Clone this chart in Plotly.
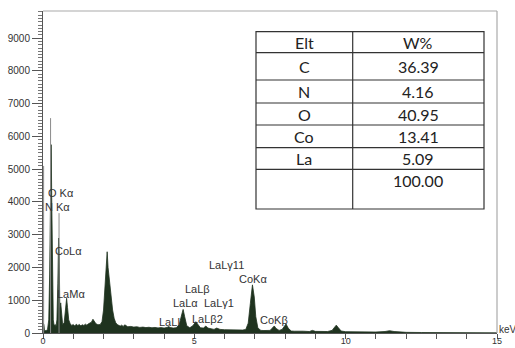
import plotly.graph_objects as go

# ---- spectrum (keV, counts) ----
kev = [0.00, 0.01, 0.03, 0.05, 0.10, 0.15, 0.19, 0.22, 0.245, 0.27, 0.29, 0.31, 0.34, 0.37,
       0.40, 0.43, 0.46, 0.49, 0.515, 0.535, 0.555, 0.585, 0.615, 0.65, 0.70, 0.74, 0.78,
       0.81, 0.85, 0.90, 0.95, 1.00, 1.05, 1.10, 1.15, 1.20, 1.25, 1.30, 1.35, 1.40, 1.45,
       1.50, 1.55, 1.60, 1.65, 1.70, 1.75, 1.80, 1.85, 1.90, 1.95, 2.00, 2.05, 2.09, 2.12,
       2.15, 2.20, 2.25, 2.30, 2.35, 2.40, 2.45, 2.50, 2.55, 2.60, 2.65, 2.70, 2.75, 2.80,
       2.90, 3.00, 3.10, 3.20, 3.30, 3.40, 3.50, 3.60, 3.70, 3.80, 3.90, 4.00, 4.10, 4.15,
       4.20, 4.30, 4.40, 4.50, 4.58, 4.63, 4.68, 4.75, 4.85, 4.95, 5.05, 5.12, 5.20, 5.30,
       5.38, 5.45, 5.55, 5.65, 5.74, 5.85, 6.00, 6.10, 6.20, 6.30, 6.40, 6.50, 6.60, 6.70,
       6.78, 6.85, 6.92, 6.98, 7.03, 7.10, 7.20, 7.30, 7.40, 7.50, 7.58, 7.64, 7.70, 7.80,
       7.90, 7.97, 8.03, 8.10, 8.20, 8.30, 8.40, 8.50, 8.60, 8.80, 8.90, 9.00, 9.20, 9.40,
       9.55, 9.62, 9.69, 9.76, 9.85, 10.0, 10.2, 10.5, 10.8, 11.0, 11.3, 11.45, 11.6, 11.8,
       12.0, 12.5, 13.0, 13.5, 14.0, 14.5, 15.0]
counts = [0, 300, 250, 80, 70, 110, 400, 1800, 4300, 5750, 4000, 1500, 400, 210,
          260, 200, 400, 1500, 2900, 2400, 750, 920, 480, 250, 320, 700, 1060,
          780, 400, 280, 230, 260, 210, 270, 230, 260, 220, 250, 230, 270, 240,
          280, 300, 330, 420, 330, 280, 260, 250, 270, 350, 700, 1400, 2200, 2480,
          2000, 1500, 1000, 700, 450, 320, 260, 230, 210, 240, 200, 250, 210, 190,
          200, 180, 190, 170, 180, 165, 175, 160, 170, 155, 165, 150, 170, 200,
          170, 150, 160, 250, 550, 720, 500, 220, 160, 220, 345, 260, 160, 150,
          210, 150, 120, 110, 150, 110, 100, 95, 100, 90, 95, 85, 90, 110,
          300, 900, 1470, 1100, 500, 150, 80, 75, 70, 80, 150, 215, 140, 80,
          110, 220, 275, 150, 60, 55, 60, 50, 55, 45, 80, 50, 40, 45,
          80, 170, 240, 160, 60, 40, 35, 30, 28, 30, 45, 70, 45, 25,
          20, 15, 12, 10, 8, 6, 5]

# element marker lines (keV, counts)
marker_kev = [0.02, 0.25, 0.53]
marker_cnt = [5100, 6560, 3660]

# peak labels (keV, counts of label anchor)
label_text = ["O Kα", "N Kα", "CoLα", "LaMα", "LaLI", "LaLα", "LaLβ", "LaLγ1",
              "LaLβ2", "LaLγ11", "CoKα", "CoKβ"]
label_kev = [0.10, 0.00, 0.33, 0.40, 3.77, 4.22, 4.63, 5.24, 4.86, 5.41, 6.41, 7.10]
label_cnt = [4280, 3850, 2500, 1190, 350, 925, 1345, 915, 430, 2075, 1640, 400]

# composition table
table_elt = ["Elt", "C", "N", "O", "Co", "La", ""]
table_wt = ["W%", "36.39", "4.16", "40.95", "13.41", "5.09", "100.00"]

y_ticks = [0, 1000, 2000, 3000, 4000, 5000, 6000, 7000, 8000, 9000]
x_ticks = [0, 5, 10, 15]

W, H = 515, 348
L, R, T, B = 43, 18, 11, 15
pw, ph = W - L - R, H - T - B


def px(x):
    return (x - L) / pw


def py(y):
    return (H - B - y) / ph


fig = go.Figure()
fig.add_trace(go.Scatter(x=kev, y=counts, mode="lines", fill="tozeroy",
                         line=dict(color="#1f331f", width=0.8),
                         fillcolor="#1f331f", hoverinfo="skip"))
mx, my = [], []
for k, c in zip(marker_kev, marker_cnt):
    mx += [k, k, None]
    my += [0, c, None]
fig.add_trace(go.Scatter(x=mx, y=my, mode="lines",
                         line=dict(color="#8a8a8a", width=1), hoverinfo="skip"))

annotations = []
for t, k, c in zip(label_text, label_kev, label_cnt):
    annotations.append(dict(x=k, y=c, xref="x", yref="y", text=t, showarrow=False,
                            xanchor="left", yanchor="middle",
                            font=dict(family="Liberation Sans", size=11, color="#333333")))
annotations.append(dict(x=1, y=122, xref="paper", yref="y", text="keV", showarrow=False,
                        xanchor="left", yanchor="middle", xshift=0,
                        font=dict(family="Liberation Sans", size=10, color="#333333")))

shapes = []
# frame top/right
shapes.append(dict(type="line", xref="paper", yref="paper", x0=0, x1=1, y0=1, y1=1,
                   line=dict(color="#aaaaaa", width=1.2)))
shapes.append(dict(type="line", xref="paper", yref="paper", x0=1, x1=1, y0=0, y1=1,
                   line=dict(color="#aaaaaa", width=1.2)))

# table
tl, tr, tc = 256, 484, 352.7
rows = [31.7, 52.7, 80, 103, 125, 147.7, 169.3, 209]
lc = dict(color="#333333", width=1.2)
shapes.append(dict(type="rect", xref="paper", yref="paper", x0=px(tl), x1=px(tr),
                   y0=py(rows[-1]), y1=py(rows[0]), line=lc, fillcolor="white"))
shapes.append(dict(type="line", xref="paper", yref="paper", x0=px(tc), x1=px(tc),
                   y0=py(rows[-1]), y1=py(rows[0]), line=lc))
for r in rows[1:-1]:
    shapes.append(dict(type="line", xref="paper", yref="paper", x0=px(tl), x1=px(tr),
                       y0=py(r), y1=py(r), line=lc))
for i, (e, w) in enumerate(zip(table_elt, table_wt)):
    top, bot = rows[i], rows[i + 1]
    yc = (top + bot) / 2 if bot - top < 30 else top + 11
    for txt, cx in ((e, (tl + tc) / 2), (w, (tc + tr) / 2)):
        annotations.append(dict(x=px(cx), y=py(yc), xref="paper", yref="paper",
                                text=txt, showarrow=False, xanchor="center",
                                yanchor="middle",
                                font=dict(family="Lato", size=16, color="#222222")))

fig.update_layout(
    width=W, height=H, margin=dict(l=L, r=R, t=T, b=B, autoexpand=False),
    paper_bgcolor="white", plot_bgcolor="white", showlegend=False,
    annotations=annotations, shapes=shapes,
    xaxis=dict(range=[0, 15], tickvals=x_ticks, ticks="outside", ticklen=5,
               tickcolor="#555555", showline=True, linecolor="#555555", linewidth=1,
               showgrid=False, zeroline=False, automargin=False, ticklabelstandoff=-6,
               minor=dict(dtick=1, ticks="outside", ticklen=5, tickcolor="#555555"),
               tickfont=dict(family="Liberation Sans", size=9, color="#333333")),
    yaxis=dict(range=[0, 9830], tickvals=y_ticks, ticks="outside", ticklen=10,
               tickcolor="#555555", showline=True, linecolor="#555555", linewidth=1,
               showgrid=False, zeroline=False, automargin=False,
               minor=dict(dtick=100, ticks="outside", ticklen=4, tickcolor="#777777"),
               tickfont=dict(family="Liberation Sans", size=10, color="#333333")),
)

fig.write_html("out.html")
